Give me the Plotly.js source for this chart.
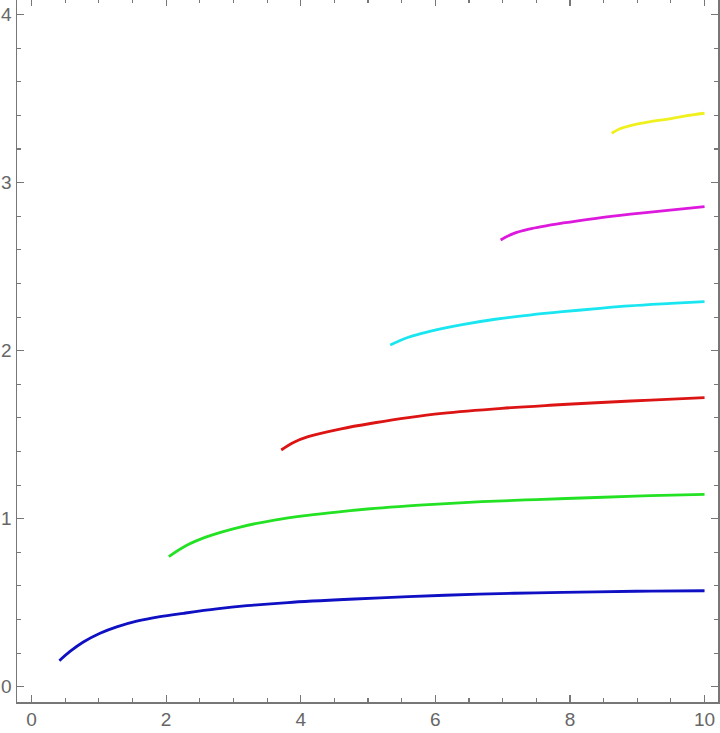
<!DOCTYPE html>
<html>
<head>
<meta charset="utf-8">
<script src="https://cdn.plot.ly/plotly-3.0.1.min.js"></script>
<style>
  html, body { margin: 0; padding: 0; background: #fff; overflow: hidden; }
  #chart { position: absolute; left: 0; top: -2px; width: 720px; height: 735px; }
</style>
</head>
<body>
<div id="chart"></div>
<script>
// Values
const blueX = [0.414, 0.572, 0.770, 1.018, 1.266, 1.563, 1.91, 2.26, 2.75, 3.20, 3.81, 4.80, 5.6, 6.65, 7.5, 8.39, 9.2, 10.0];
const blueY = [0.155, 0.210, 0.266, 0.318, 0.356, 0.390, 0.417, 0.437, 0.463, 0.482, 0.501, 0.522, 0.536, 0.551, 0.559, 0.565, 0.569, 0.571];

const greenX = [2.04, 2.3, 2.61, 3.1, 3.61, 4.1, 4.6, 5.1, 5.6, 6.1, 6.69, 7.5, 8.39, 9.2, 10.0];
const greenY = [0.774, 0.84, 0.893, 0.950, 0.992, 1.020, 1.042, 1.061, 1.076, 1.088, 1.101, 1.114, 1.126, 1.137, 1.145];

const redX = [3.71, 3.9, 4.11, 4.6, 5.10, 5.6, 6.10, 6.99, 7.7, 8.39, 9.2, 10.0];
const redY = [1.409, 1.455, 1.488, 1.535, 1.571, 1.602, 1.627, 1.657, 1.675, 1.690, 1.706, 1.720];

const cyanX = [5.33, 5.6, 5.90, 6.4, 6.89, 7.4, 7.89, 8.4, 8.88, 9.5, 10.0];
const cyanY = [2.034, 2.080, 2.113, 2.155, 2.187, 2.212, 2.232, 2.250, 2.266, 2.281, 2.292];

const magentaX = [6.97, 7.15, 7.39, 7.9, 8.39, 8.9, 9.38, 10.0];
const magentaY = [2.659, 2.695, 2.723, 2.760, 2.788, 2.812, 2.832, 2.857];

const yellowX = [8.62, 8.75, 8.93, 9.18, 9.43, 9.7, 10.0];
const yellowY = [3.294, 3.322, 3.343, 3.362, 3.377, 3.396, 3.413];

const xTicks = [0, 2, 4, 6, 8, 10];
const yTicks = [0, 1, 2, 3, 4];

const series = [
  {x: blueX, y: blueY, c: 'rgb(15,15,195)'},
  {x: greenX, y: greenY, c: 'rgb(35,225,35)'},
  {x: redX, y: redY, c: 'rgb(220,20,20)'},
  {x: cyanX, y: cyanY, c: 'rgb(25,230,240)'},
  {x: magentaX, y: magentaY, c: 'rgb(220,25,220)'},
  {x: yellowX, y: yellowY, c: 'rgb(240,240,30)'}
];

const traces = series.map(s => ({
  x: s.x, y: s.y, type: 'scatter', mode: 'lines',
  line: {color: s.c, width: 2.8, shape: 'spline', smoothing: 1},
  hoverinfo: 'skip'
}));

const axisCommon = {
  showgrid: false, zeroline: false,
  showline: true, linecolor: '#777', linewidth: 1.5, mirror: 'ticks',
  ticks: 'inside', ticklen: 7, tickwidth: 1.2, tickcolor: '#777',
  tickfont: {family: 'Liberation Sans, Arial, sans-serif', size: 19, color: '#666'},
  fixedrange: true
};

const layout = {
  width: 720, height: 735,
  margin: {l: 17, r: 2, t: 1, b: 31, pad: 0},
  paper_bgcolor: '#fff', plot_bgcolor: '#fff',
  showlegend: false,
  xaxis: Object.assign({}, axisCommon, {
    range: [-0.216, 10.2],
    tickmode: 'array', tickvals: xTicks, ticktext: xTicks.map(String),
    minor: {dtick: 0.5, tick0: 0, ticks: 'inside', ticklen: 4, tickcolor: '#777', tickwidth: 1.1}
  }),
  yaxis: Object.assign({}, axisCommon, {
    range: [-0.091, 4.093],
    tickmode: 'array', tickvals: yTicks, ticktext: yTicks.map(String),
    minor: {dtick: 0.2, tick0: 0, ticks: 'inside', ticklen: 4, tickcolor: '#777', tickwidth: 1.1}
  })
};

Plotly.newPlot('chart', traces, layout, {staticPlot: true, displayModeBar: false});
</script>
</body>
</html>
